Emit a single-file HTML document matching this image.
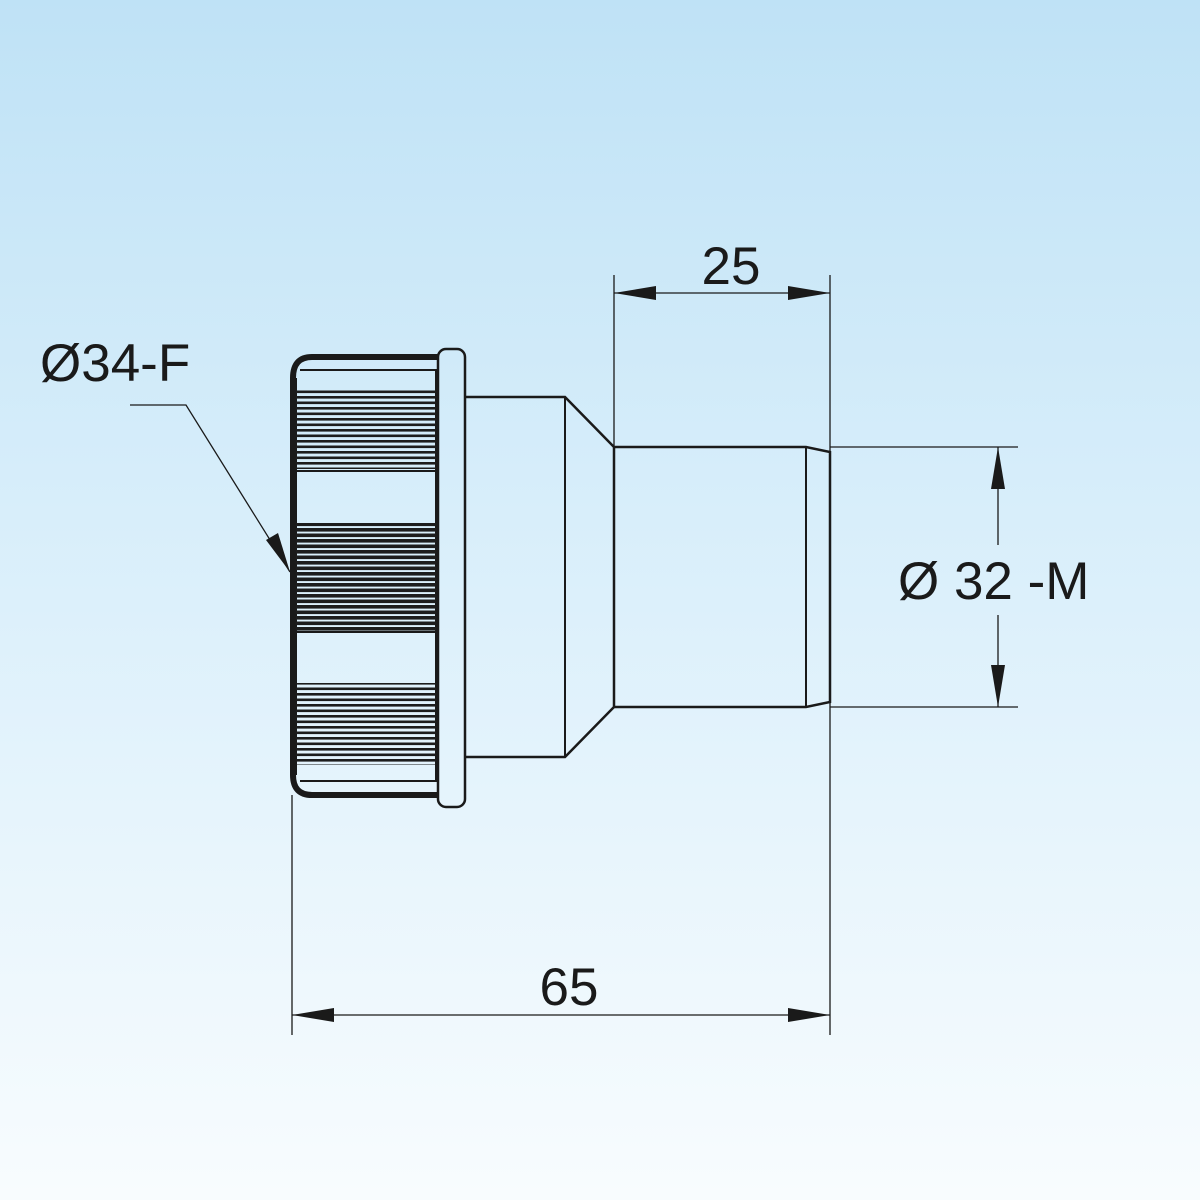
<!DOCTYPE html>
<html><head><style>
html,body{margin:0;padding:0}
body{width:1200px;height:1200px;background:linear-gradient(to bottom,#bfe2f6 0%,#dcf0fb 50%,#f8fcfe 100%);}
svg{position:absolute;left:0;top:0}
text{font-family:"Liberation Sans",sans-serif;fill:#1a1a1a}
</style></head><body>
<svg width="1200" height="1200" viewBox="0 0 1200 1200">
<defs>
<pattern id="thr" x="0" y="0" width="10" height="5.5" patternUnits="userSpaceOnUse">
<rect x="0" y="0" width="10" height="2.6" fill="#1d1d1d"/>
</pattern>
<pattern id="thr2" x="0" y="0" width="10" height="5.5" patternUnits="userSpaceOnUse">
<rect x="0" y="0" width="10" height="3.6" fill="#1d1d1d"/>
</pattern>
</defs>
<g stroke="#1a1a1a" fill="none">
<path d="M438 357 L312 357 Q293 357 293 378 L293 775 Q293 795 312 795 L438 795" stroke-width="6"/>
<line x1="300" y1="370" x2="438" y2="370" stroke-width="2"/>
<line x1="300" y1="781" x2="438" y2="781" stroke-width="2"/>
<line x1="296" y1="378" x2="296" y2="775" stroke-width="2"/>
<line x1="436" y1="370" x2="436" y2="781" stroke-width="2"/>
<rect x="296" y="389" width="142" height="80" fill="url(#thr)" stroke="none"/>
<rect x="296" y="523" width="142" height="108" fill="url(#thr2)" stroke="none"/>
<rect x="296" y="683" width="142" height="82" fill="url(#thr)" stroke="none"/>
<line x1="296" y1="471" x2="436" y2="471" stroke-width="2"/>
<line x1="296" y1="632" x2="436" y2="632" stroke-width="2"/>
<rect x="438" y="349" width="27" height="458" rx="8" stroke-width="2.5"/>
<path d="M465 397 L565 397 L614 447 L614 707 L565 757 L465 757" stroke-width="2.5"/>
<line x1="565" y1="397" x2="565" y2="757" stroke-width="2"/>
<path d="M614 447 L806 447 L830 452 L830 702 L806 707 L614 707" stroke-width="2.5"/>
<line x1="806" y1="447" x2="806" y2="707" stroke-width="2"/>
<g stroke-width="1.3">
<line x1="614" y1="275" x2="614" y2="447"/>
<line x1="830" y1="275" x2="830" y2="1035"/>
<line x1="292" y1="795" x2="292" y2="1035"/>
<line x1="614" y1="293" x2="830" y2="293"/>
<line x1="292" y1="1015" x2="830" y2="1015"/>
<line x1="830" y1="447" x2="1018" y2="447"/>
<line x1="830" y1="707" x2="1018" y2="707"/>
<line x1="998" y1="447" x2="998" y2="545"/>
<line x1="998" y1="615" x2="998" y2="707"/>
<polyline points="130,405 186,405 290,572"/>
</g>
</g>
<g fill="#1a1a1a">
<polygon points="614,293 656,286 656,300"/>
<polygon points="830,293 788,286 788,300"/>
<polygon points="292,1015 334,1008 334,1022"/>
<polygon points="830,1015 788,1008 788,1022"/>
<polygon points="998,447 991,489 1005,489"/>
<polygon points="998,707 991,665 1005,665"/>
<polygon points="290,572 266,540 278,533"/>
</g>
<text x="731" y="284" font-size="53" text-anchor="middle">25</text>
<text x="569" y="1005" font-size="53" text-anchor="middle">65</text>
<text x="40" y="381" font-size="53">Ø34-F</text>
<text x="898" y="599" font-size="53">Ø 32 -M</text>
</svg>
</body></html>
